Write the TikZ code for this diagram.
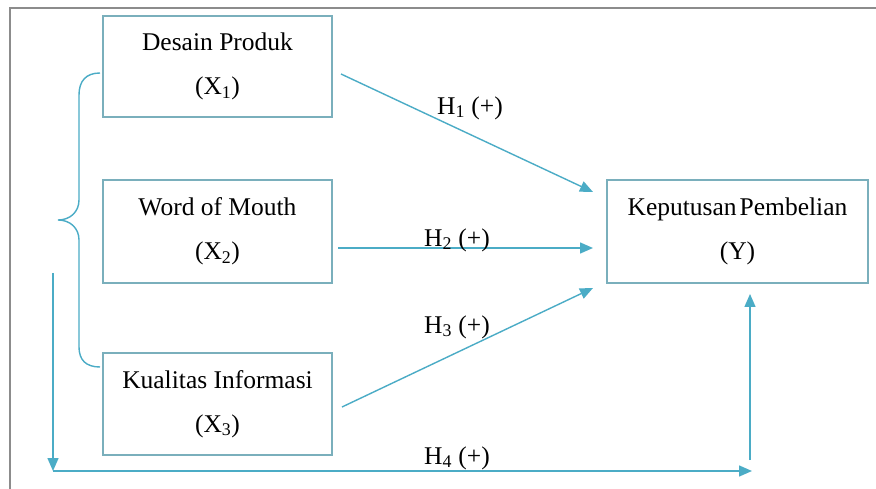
\documentclass[tikz,border=0pt]{standalone}
\usepackage{fontspec}
\setmainfont{Liberation Serif}
\usetikzlibrary{arrows.meta}
\definecolor{linec}{HTML}{4BACC6}
\definecolor{boxc}{HTML}{7AAFBC}
\definecolor{framec}{HTML}{8C8C8C}
\tikzset{
  varbox/.style={draw=boxc, line width=1.2pt, minimum width=229pt, align=center, inner sep=0pt,
    font=\fontsize{25.5}{44}\selectfont},
  conn/.style={draw=linec, line width=1.4pt, -{Triangle[length=13pt,width=11pt]}},
  plain/.style={draw=linec, line width=1.4pt},
  hlabel/.style={font=\fontsize{25.5}{30}\selectfont, inner sep=1pt}
}
\begin{document}
\begin{tikzpicture}[x=1pt,y=-1pt]
\useasboundingbox (0,0) rectangle (876,489);
\fill[white] (0,0) rectangle (876,489);
\draw[framec, line width=1.2pt] (10,489) -- (10,8) -- (876,8);

\node[varbox, minimum height=101pt] (x1) at (217.5,66.5) {Desain Produk\\(X\textsubscript{1})};
\node[varbox, minimum height=103pt] (x2) at (217.5,231.5) {Word of Mouth\\(X\textsubscript{2})};
\node[varbox, minimum height=102pt] (x3) at (217.5,404) {Kualitas Informasi\\(X\textsubscript{3})};
\node[varbox, minimum height=103pt, minimum width=261pt] (y) at (737.5,231.5) {Keputusan\hspace{0.12em}Pembelian\\(Y)};

% brace
\draw[plain] (100,73) .. controls (86,73) and (79,81) .. (79,95) -- (79,200)
  .. controls (79,212) and (70,220) .. (58,220)
  .. controls (70,220) and (79,228) .. (79,240) -- (79,347)
  .. controls (79,360) and (86,367) .. (100,367);

% connector endpoints
\coordinate (s1) at (341,74);
\coordinate (e1) at (593,192);
\coordinate (s2) at (338,248);
\coordinate (e2) at (593,248);
\coordinate (s3) at (342,407);
\coordinate (e3) at (593,288);
\coordinate (a) at (53,273);
\coordinate (b) at (53,471);
\coordinate (c) at (752,471);
\coordinate (d) at (750,460);
\coordinate (f) at (750,294);

\draw[conn] (s1) -- (e1);
\draw[conn] (s2) -- (e2);
\draw[conn] (s3) -- (e3);
\draw[conn] (a) -- (b);
\draw[conn] (b) -- (c);
\draw[conn] (d) -- (f);

\node[hlabel] (h1) at (470,108) {H\textsubscript{1} (+)};
\node[hlabel] (h2) at (457,240) {H\textsubscript{2} (+)};
\node[hlabel] (h3) at (457,327) {H\textsubscript{3} (+)};
\node[hlabel] (h4) at (457,458) {H\textsubscript{4} (+)};
\end{tikzpicture}
\end{document}
